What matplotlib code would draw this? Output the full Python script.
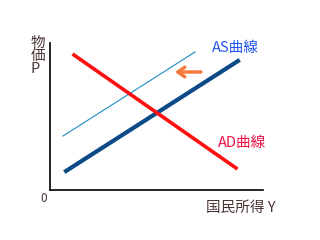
import matplotlib
matplotlib.use('Agg')
import matplotlib.pyplot as plt

plt.rcParams['font.family'] = ['Noto Sans CJK JP', 'DejaVu Sans']

# line end points (pixel units measured from the origin)
as_x = [16, 188]
as_y = [19, 129]
as2_x = [13, 145]
as2_y = [54, 138]
ad_x = [24, 186]
ad_y = [135, 22]
arrow_from = (151, 118)
arrow_to = (125, 118)

text_col = '#4a3535'

fig = plt.figure(figsize=(3.2, 2.4), dpi=100)
ax = fig.add_axes([50/320, 50/240, 213/320, 147/240])
ax.set_xlim(0, 213)
ax.set_ylim(0, 147)
ax.spines['top'].set_visible(False)
ax.spines['right'].set_visible(False)
ax.spines['left'].set_linewidth(1.2)
ax.spines['bottom'].set_linewidth(1.2)
ax.set_xticks([])
ax.set_yticks([])

ax.plot(as2_x, as2_y, color='#1e88c8', lw=0.8)
ax.plot(as_x, as_y, color='#0b4a86', lw=3)
ax.plot(ad_x, ad_y, color='#ff1010', lw=2.6)

ax.annotate('', xy=arrow_to, xytext=arrow_from,
            arrowprops=dict(arrowstyle='->,head_length=0.5,head_width=0.35',
                            color='#f5783c', lw=2.4, mutation_scale=10,
                            shrinkA=0, shrinkB=0))

ax.text(162, 142, 'AS曲線', color='#2255ee', fontsize=10.5, va='center', clip_on=False)
ax.text(168, 47, 'AD曲線', color='#ee1144', fontsize=10.5, va='center', clip_on=False)

fig.text(31/320, 1 - 56/240, '物\n価\nP', color=text_col, fontsize=10.5,
         ha='left', va='center', linespacing=0.92)
fig.text(44/320, 1 - 198/240, '0', color=text_col, fontsize=8.5, ha='center', va='center')
fig.text(206/320, 1 - 208/240, '国民所得 Y', color=text_col, fontsize=10.5,
         ha='left', va='center')

fig.savefig('out.png', dpi=100)
